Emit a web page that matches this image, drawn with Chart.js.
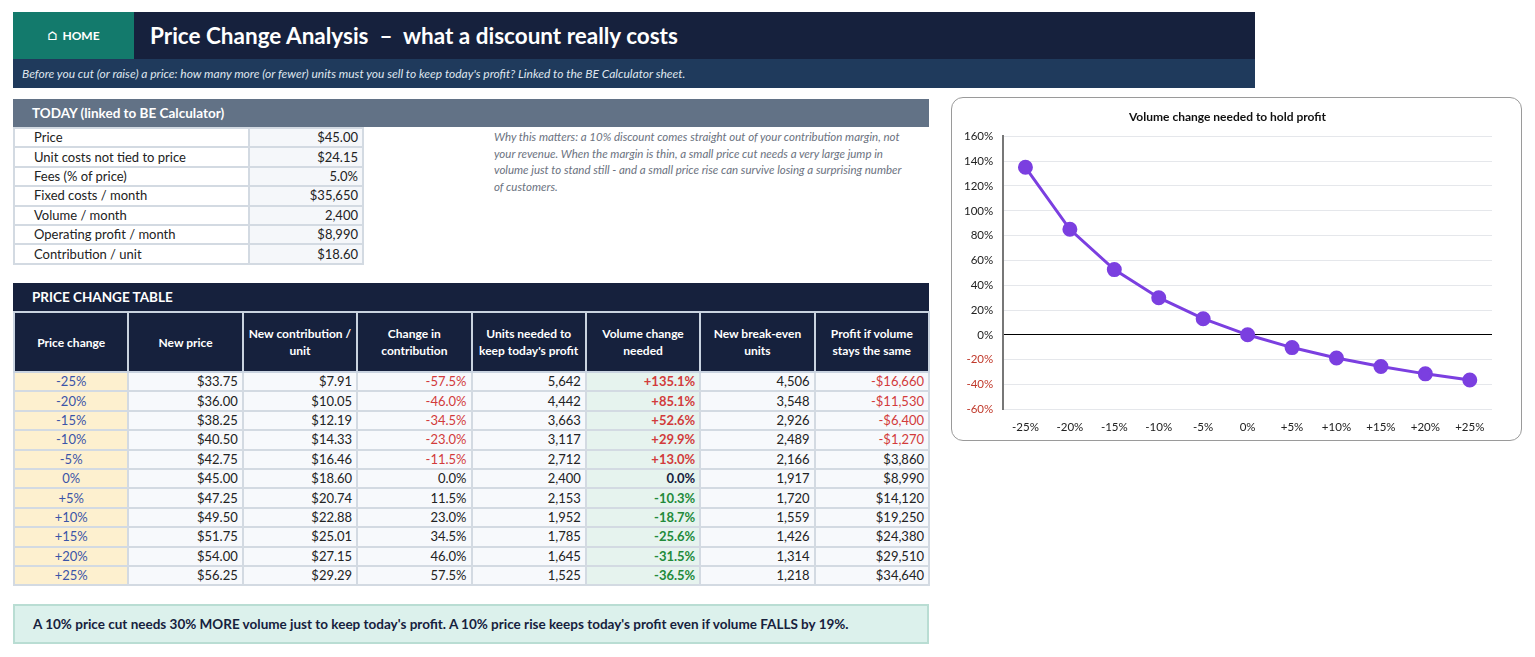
<!DOCTYPE html>
<html>
<head>
<meta charset="utf-8">
<script src="https://cdn.jsdelivr.net/npm/chart.js@4"></script>
<style>
  body { margin: 0; background: #fff; font-family: Lato, "Open Sans", sans-serif; color: #222; }
  .abs { position: absolute; box-sizing: border-box; }
  #top { left: 13px; top: 12px; width: 1242px; height: 47px; background: #16213d; }
  #home { left: 13px; top: 12px; width: 121px; height: 47px; background: #137a6c; color: #fff; font-weight: bold; font-size: 12px; display: flex; align-items: center; justify-content: center; }
  #title { left: 150px; top: 12px; height: 47px; line-height: 47px; color: #fff; font-size: 22.5px; font-weight: bold; }
  #sub { left: 13px; top: 59px; width: 1242px; height: 29px; background: #1f3a5c; color: #dfe6ef; font-style: italic; font-size: 12px; line-height: 29px; padding-left: 9px; }
  #todayHead { left: 13px; top: 99px; width: 916px; height: 28px; background: #627286; color: #fff; font-weight: bold; font-size: 13.5px; line-height: 28px; padding-left: 19px; }
  table { border-collapse: collapse; font-size: 13px; }
  tr.r { height: 19.4px; }
  #today { left: 13px; top: 127px; }
  #today td { border: 2px solid #d3dae2; padding: 0 4px; line-height: 15px; }
  #today td.l { width: 235px; padding-left: 19px; box-sizing: border-box; }
  #today td.v { width: 114px; text-align: right; background: #f5f7fa; box-sizing: border-box; }
  #note { left: 494px; top: 129px; width: 410px; color: #6b7280; font-style: italic; font-size: 11.5px; line-height: 16.5px; }
  #pcHead { left: 13px; top: 283px; width: 916px; height: 28px; background: #16213d; color: #fff; font-weight: bold; font-size: 13.5px; line-height: 28px; padding-left: 19px; }
  #pc { left: 13px; top: 311px; width: 917px; table-layout: fixed; }
  #pc th { background: #16213d; color: #fff; font-size: 12px; height: 58px; border: 2px solid #c9d3e0; padding: 0 4px; line-height: 17px; }
  #pc td { border: 2px solid #d3dae2; padding: 0 4px; text-align: right; background: #f7f9fc; line-height: 15px; }
  #pc td.pc { background: #fdf0cf; color: #3b54a8; text-align: center; }
  #pc td.vc { background: #e6f3ee; font-weight: bold; }
  .neg { color: #d23b3b; }
  .pos { color: #228a3a; }
  .zero { color: #16213d; }
  #msg { left: 13px; top: 604px; width: 916px; height: 40px; background: #dcf1ec; border: 2px solid #b9ddd3; font-weight: bold; font-size: 13.5px; line-height: 36px; padding-left: 18px; color: #16213d; }
  #chartBox { left: 951px; top: 97px; width: 571px; height: 344px; border: 1px solid #9a9a9a; border-radius: 12px; background: #fff; padding: 6px 20px 3px 2px; }
</style>
</head>
<body>
<div id="top" class="abs"></div>
<div id="home" class="abs">⌂&nbsp;&nbsp;HOME</div>
<div id="title" class="abs">Price Change Analysis &nbsp;–&nbsp; what a discount really costs</div>
<div id="sub" class="abs">Before you cut (or raise) a price: how many more (or fewer) units must you sell to keep today's profit? Linked to the BE Calculator sheet.</div>
<div id="todayHead" class="abs">TODAY (linked to BE Calculator)</div>
<table id="today" class="abs"></table>
<div id="note" class="abs">Why this matters: a 10% discount comes straight out of your contribution margin, not your revenue. When the margin is thin, a small price cut needs a very large jump in volume just to stand still - and a small price rise can survive losing a surprising number of customers.</div>
<div id="pcHead" class="abs">PRICE CHANGE TABLE</div>
<table id="pc" class="abs"></table>
<div id="msg" class="abs">A 10% price cut needs 30% MORE volume just to keep today's profit. A 10% price rise keeps today's profit even if volume FALLS by 19%.</div>
<div id="chartBox" class="abs"><canvas id="volChart"></canvas></div>

<script>
// Today inputs
const todayLabels = ["Price", "Unit costs not tied to price", "Fees (% of price)", "Fixed costs / month", "Volume / month", "Operating profit / month", "Contribution / unit"];
const todayValues = ["$45.00", "$24.15", "5.0%", "$35,650", "2,400", "$8,990", "$18.60"];

// Price change table
const headers = ["Price change", "New price", "New contribution / unit", "Change in contribution", "Units needed to keep today's profit", "Volume change needed", "New break-even units", "Profit if volume stays the same"];
const priceChanges = ["-25%", "-20%", "-15%", "-10%", "-5%", "0%", "+5%", "+10%", "+15%", "+20%", "+25%"];
const newPrice = ["$33.75", "$36.00", "$38.25", "$40.50", "$42.75", "$45.00", "$47.25", "$49.50", "$51.75", "$54.00", "$56.25"];
const newContrib = ["$7.91", "$10.05", "$12.19", "$14.33", "$16.46", "$18.60", "$20.74", "$22.88", "$25.01", "$27.15", "$29.29"];
const contribChange = [-57.5, -46.0, -34.5, -23.0, -11.5, 0.0, 11.5, 23.0, 34.5, 46.0, 57.5];
const unitsNeeded = ["5,642", "4,442", "3,663", "3,117", "2,712", "2,400", "2,153", "1,952", "1,785", "1,645", "1,525"];
const volumeChange = [135.1, 85.1, 52.6, 29.9, 13.0, 0.0, -10.3, -18.7, -25.6, -31.5, -36.5];
const breakEven = ["4,506", "3,548", "2,926", "2,489", "2,166", "1,917", "1,720", "1,559", "1,426", "1,314", "1,218"];
const profitSame = [-16660, -11530, -6400, -1270, 3860, 8990, 14120, 19250, 24380, 29510, 34640];

// Chart axis
const yTicks = [160, 140, 120, 100, 80, 60, 40, 20, 0, -20, -40, -60];

const today = document.getElementById("today");
todayLabels.forEach((l, i) => {
  today.insertAdjacentHTML("beforeend", `<tr class="r"><td class="l">${l}</td><td class="v">${todayValues[i]}</td></tr>`);
});

const pc = document.getElementById("pc");
pc.insertAdjacentHTML("beforeend", "<tr>" + headers.map(h => `<th>${h}</th>`).join("") + "</tr>");
const money = v => (v < 0 ? "-$" : "$") + Math.abs(v).toLocaleString("en-US");
priceChanges.forEach((p, i) => {
  const cc = contribChange[i], vc = volumeChange[i], pf = profitSame[i];
  const vcCls = vc > 0 ? "neg" : vc < 0 ? "pos" : "zero";
  const vcTxt = (vc > 0 ? "+" : "") + vc.toFixed(1) + "%";
  pc.insertAdjacentHTML("beforeend", `<tr class="r">
    <td class="pc">${p}</td><td>${newPrice[i]}</td><td>${newContrib[i]}</td>
    <td class="${cc < 0 ? "neg" : ""}">${cc.toFixed(1)}%</td><td>${unitsNeeded[i]}</td>
    <td class="vc ${vcCls}">${vcTxt}</td><td>${breakEven[i]}</td>
    <td class="${pf < 0 ? "neg" : ""}">${money(pf)}</td></tr>`);
});

new Chart(document.getElementById("volChart"), {
  type: "line",
  data: {
    labels: priceChanges,
    datasets: [{
      data: volumeChange,
      borderColor: "#7b3fe0",
      backgroundColor: "#7b3fe0",
      borderWidth: 3,
      pointRadius: 6,
      pointHoverRadius: 6,
      tension: 0
    }]
  },
  options: {
    responsive: true,
    maintainAspectRatio: false,
    animation: false,
    plugins: {
      legend: { display: false },
      tooltip: { enabled: false },
      title: { display: true, text: "Volume change needed to hold profit", color: "#111", font: { family: "Lato", size: 12, weight: "bold" }, padding: { top: 6, bottom: 12 } }
    },
    scales: {
      x: {
        offset: true,
        grid: { display: false },
        border: { display: false },
        ticks: { color: "#222", font: { family: "Lato", size: 11.5 }, padding: 3 }
      },
      y: {
        min: -60, max: 160,
        afterBuildTicks: ax => { ax.ticks = yTicks.map(v => ({ value: v })); },
        grid: { color: c => c.tick.value === 0 ? "#000" : "#e5e7eb", lineWidth: 1, drawTicks: false },
        border: { display: true, color: "#777", width: 2 },
        ticks: {
          color: c => c.tick.value < 0 ? "#c0392b" : "#222",
          font: { family: "Lato", size: 11.5 },
          padding: 10,
          callback: v => v + "%"
        }
      }
    }
  }
});
</script>
</body>
</html>
